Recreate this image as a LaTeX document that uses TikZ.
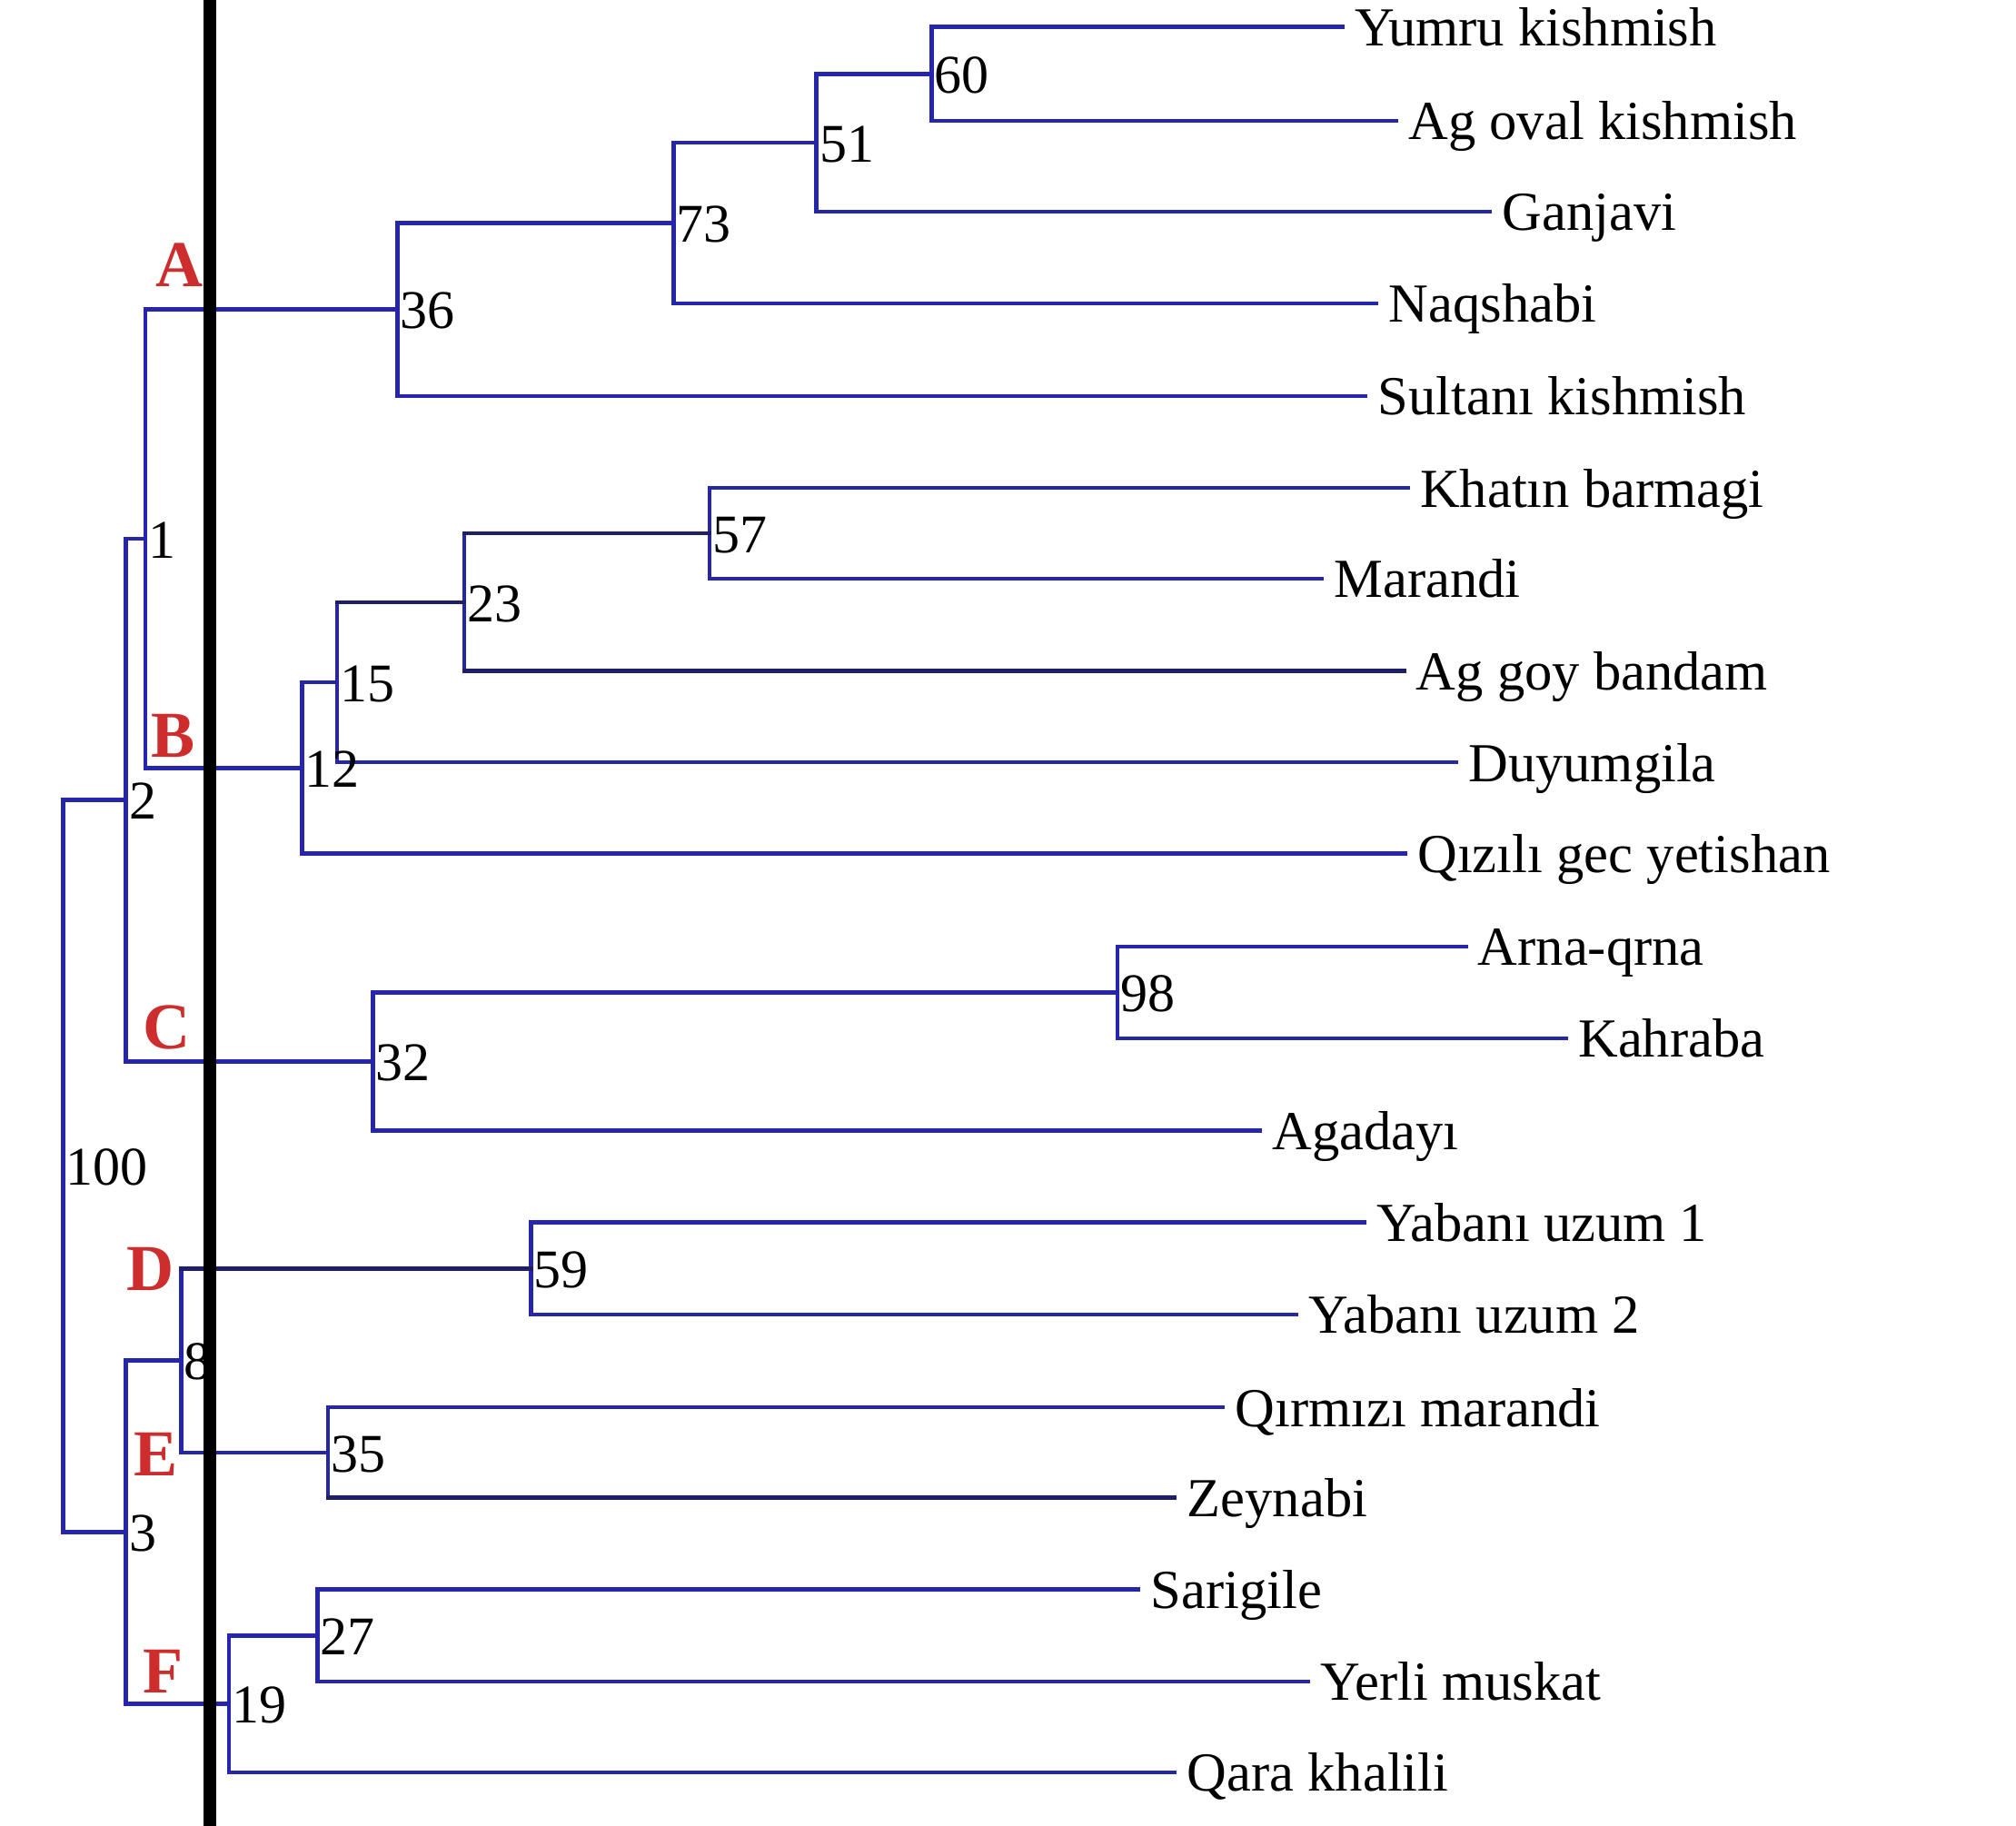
\documentclass[tikz,border=0pt]{standalone}
\usepackage{fontspec}
\setmainfont{Liberation Serif}
\definecolor{treeblue}{RGB}{38,38,172}
\definecolor{treenavy}{RGB}{30,30,105}
\definecolor{grpred}{RGB}{205,45,45}
\begin{document}
\begin{tikzpicture}[x=0.5pt,y=-0.5pt,
  bl/.style={draw=treeblue,line width=1.6pt,line cap=rect},
  dk/.style={draw=treenavy,line width=1.6pt,line cap=rect},
  leaf/.style={anchor=base west,inner sep=0pt,xshift=4.6pt,yshift=-7.4pt,font=\fontsize{21.4}{25}\selectfont},
  num/.style={anchor=base west,inner sep=0pt,xshift=1pt,yshift=-7.5pt,font=\fontsize{21.2}{25}\selectfont},
  grp/.style={anchor=base west,inner sep=0pt,text=grpred,font=\fontsize{25.5}{30}\selectfont\bfseries}]
\useasboundingbox (0,0) rectangle (1568,1420);
% leaves (line ends)
\coordinate (L1) at (1044,21);
\coordinate (L2) at (1086,94);
\coordinate (L3) at (1159,164.5);
\coordinate (L4) at (1070.5,236);
\coordinate (L5) at (1062,308);
\coordinate (L6) at (1095,379.5);
\coordinate (L7) at (1028,450);
\coordinate (L8) at (1092,522);
\coordinate (L9) at (1132.5,593);
\coordinate (L10) at (1093,664);
\coordinate (L11) at (1140,736.2);
\coordinate (L12) at (1218,807.6);
\coordinate (L13) at (980,879.4);
\coordinate (L14) at (1061,950.8);
\coordinate (L15) at (1008.5,1022.5);
\coordinate (L16) at (951,1094.6);
\coordinate (L17) at (913.8,1165);
\coordinate (L18) at (885.5,1236.4);
\coordinate (L19) at (1017.6,1307.8);
\coordinate (L20) at (913.8,1378.6);
% internal nodes
\coordinate (n60) at (724.5,57.5);
\coordinate (n51) at (635,111);
\coordinate (n73) at (524,173.5);
\coordinate (n36) at (309,240.7);
\coordinate (n57) at (552,414.7);
\coordinate (n23) at (361,468.4);
\coordinate (n15) at (262,530.7);
\coordinate (n12) at (235,597.4);
\coordinate (n1) at (113,419);
\coordinate (n98) at (869,771.9);
\coordinate (n32) at (290,825.6);
\coordinate (n2) at (98,622.3);
\coordinate (n59) at (413,986.6);
\coordinate (n35) at (255,1129.8);
\coordinate (n8) at (141,1058.2);
\coordinate (n27) at (247,1272.1);
\coordinate (n19) at (178,1325.3);
\coordinate (n3) at (98,1191.8);
\coordinate (n100) at (49,907);
% verticals
\draw[bl] (n60 |- L1) -- (n60 |- L2);
\draw[bl] (n51 |- n60) -- (n51 |- L3);
\draw[bl] (n73 |- n51) -- (n73 |- L4);
\draw[bl] (n36 |- n73) -- (n36 |- L5);
\draw[bl] (n57 |- L6) -- (n57 |- L7);
\draw[bl] (n23 |- n57) -- (n23 |- L8);
\draw[bl] (n15 |- n23) -- (n15 |- L9);
\draw[bl] (n12 |- n15) -- (n12 |- L10);
\draw[bl] (n1 |- n36) -- (n1 |- n12);
\draw[bl] (n98 |- L11) -- (n98 |- L12);
\draw[bl] (n32 |- n98) -- (n32 |- L13);
\draw[bl] (n2 |- n1) -- (n2 |- n32);
\draw[bl] (n59 |- L14) -- (n59 |- L15);
\draw[bl] (n35 |- L16) -- (n35 |- L17);
\draw[bl] (n8 |- n59) -- (n8 |- n35);
\draw[bl] (n27 |- L18) -- (n27 |- L19);
\draw[bl] (n19 |- n27) -- (n19 |- L20);
\draw[bl] (n3 |- n8) -- (n3 |- n19);
\draw[bl] (n100 |- n2) -- (n100 |- n3);
% horizontals
\draw[bl] (n60 |- L1) -- (L1);
\draw[bl] (n60 |- L2) -- (L2);
\draw[bl] (n51 |- n60) -- (n60);
\draw[bl] (n51 |- L3) -- (L3);
\draw[bl] (n73 |- n51) -- (n51);
\draw[bl] (n73 |- L4) -- (L4);
\draw[bl] (n36 |- n73) -- (n73);
\draw[bl] (n36 |- L5) -- (L5);
\draw[bl] (n57 |- L6) -- (L6);
\draw[bl] (n57 |- L7) -- (L7);
\draw[dk] (n23 |- n57) -- (n57);
\draw[dk] (n23 |- L8) -- (L8);
\draw[dk] (n15 |- n23) -- (n23);
\draw[bl] (n15 |- L9) -- (L9);
\draw[bl] (n12 |- n15) -- (n15);
\draw[bl] (n12 |- L10) -- (L10);
\draw[bl] (n1 |- n36) -- (n36);
\draw[bl] (n1 |- n12) -- (n12);
\draw[bl] (n98 |- L11) -- (L11);
\draw[bl] (n98 |- L12) -- (L12);
\draw[bl] (n32 |- n98) -- (n98);
\draw[bl] (n32 |- L13) -- (L13);
\draw[bl] (n2 |- n1) -- (n1);
\draw[bl] (n2 |- n32) -- (n32);
\draw[bl] (n59 |- L14) -- (L14);
\draw[bl] (n59 |- L15) -- (L15);
\draw[bl] (n35 |- L16) -- (L16);
\draw[dk] (n35 |- L17) -- (L17);
\draw[dk] (n8 |- n59) -- (n59);
\draw[bl] (n8 |- n35) -- (n35);
\draw[bl] (n27 |- L18) -- (L18);
\draw[bl] (n27 |- L19) -- (L19);
\draw[bl] (n19 |- n27) -- (n27);
\draw[bl] (n19 |- L20) -- (L20);
\draw[bl] (n3 |- n8) -- (n8);
\draw[bl] (n3 |- n19) -- (n19);
\draw[bl] (n100 |- n2) -- (n2);
\draw[bl] (n100 |- n3) -- (n3);
% black cut line
\coordinate (cuttop) at (163.5,0);
\coordinate (cutbot) at (163.5,1420);
\draw[black,line width=5pt] (cuttop) -- (cutbot);
% leaf labels
\node[leaf] (t1) at (L1) {Yumru kishmish};
\node[leaf] (t2) at (L2) {Ag oval kishmish};
\node[leaf] (t3) at (L3) {Ganjavi};
\node[leaf] (t4) at (L4) {Naqshabi};
\node[leaf] (t5) at (L5) {Sultanı kishmish};
\node[leaf] (t6) at (L6) {Khatın barmagi};
\node[leaf] (t7) at (L7) {Marandi};
\node[leaf] (t8) at (L8) {Ag goy bandam};
\node[leaf] (t9) at (L9) {Duyumgila};
\node[leaf] (t10) at (L10) {Qızılı gec yetishan};
\node[leaf] (t11) at (L11) {Arna-qrna};
\node[leaf] (t12) at (L12) {Kahraba};
\node[leaf] (t13) at (L13) {Agadayı};
\node[leaf] (t14) at (L14) {Yabanı uzum 1};
\node[leaf] (t15) at (L15) {Yabanı uzum 2};
\node[leaf] (t16) at (L16) {Qırmızı marandi};
\node[leaf] (t17) at (L17) {Zeynabi};
\node[leaf] (t18) at (L18) {Sarigile};
\node[leaf] (t19) at (L19) {Yerli muskat};
\node[leaf] (t20) at (L20) {Qara khalili};
% bootstrap labels
\node[num] (b60) at (n60) {60};
\node[num] (b51) at (n51) {51};
\node[num] (b73) at (n73) {73};
\node[num] (b36) at (n36) {36};
\node[num] (b57) at (n57) {57};
\node[num] (b23) at (n23) {23};
\node[num] (b15) at (n15) {15};
\node[num] (b12) at (n12) {12};
\node[num] (b1) at (n1) {1};
\node[num] (b98) at (n98) {98};
\node[num] (b32) at (n32) {32};
\node[num] (b2) at (n2) {2};
\node[num] (b59) at (n59) {59};
\node[num] (b35) at (n35) {35};
\node[num] (b8) at (n8) {8};
\node[num] (b27) at (n27) {27};
\node[num] (b19) at (n19) {19};
\node[num] (b3) at (n3) {3};
\node[num] (b100) at (n100) {100};
% group letters
\node[grp] (gA) at (121,223) {A};
\node[grp] (gB) at (117,589) {B};
\node[grp] (gC) at (111,816) {C};
\node[grp] (gD) at (98,1004) {D};
\node[grp] (gE) at (104,1148) {E};
\node[grp] (gF) at (111,1317) {F};
\end{tikzpicture}
\end{document}
